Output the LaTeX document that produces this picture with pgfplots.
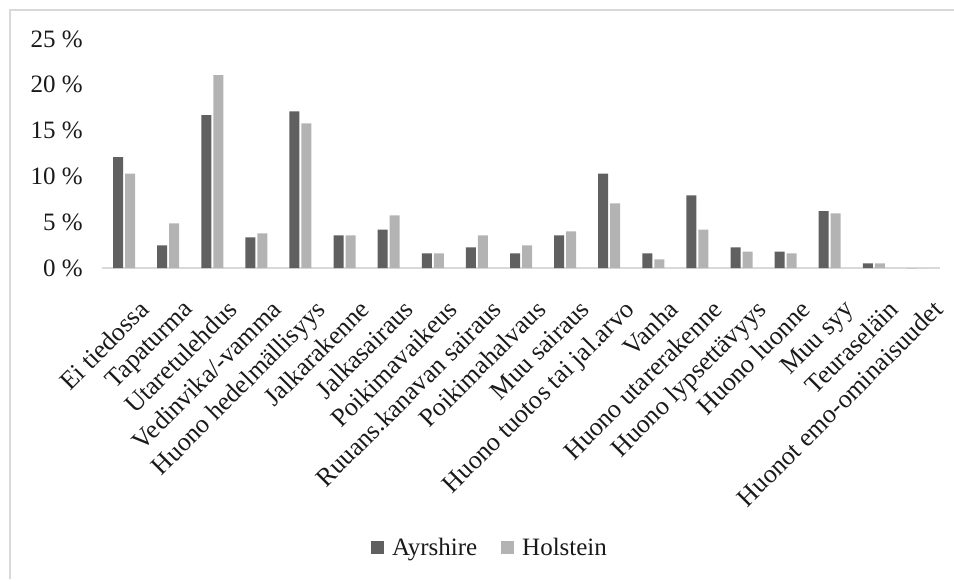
\documentclass[border=0pt]{standalone}
\usepackage{pgfplots}
\pgfplotsset{compat=1.18}
\usepackage{fontspec}
\setmainfont{Liberation Serif}
\definecolor{ayr}{HTML}{606060}
\definecolor{hol}{HTML}{B3B3B3}
\definecolor{frame}{HTML}{D9D9D9}
\definecolor{txt}{HTML}{1A1A1A}
\begin{document}
\begin{tikzpicture}[x=1pt,y=1pt]
\draw[frame, line width=1.5pt] (10,0) -- (10,569) -- (954,569);
\begin{axis}[
  at={(102pt,311pt)}, anchor=south west,
  width=838pt, height=229pt, scale only axis,
  xmin=-0.5, xmax=18.5, ymin=0, ymax=25,
  ybar=2pt, bar width=10pt,
  axis x line*=bottom, axis y line*=left,
  x axis line style={frame, line width=1.2pt, -},
  y axis line style={draw=none},
  xtick=data, xtick style={draw=none}, ytick style={draw=none},
  ytick={0,5,10,15,20,25},
  yticklabel={\pgfmathprintnumber{\tick} \%},
  /pgf/number format/assume math mode=true,
  yticklabel style={font=\fontsize{25}{29}\selectfont, text=txt, anchor=east, inner sep=0pt, xshift=-19pt},
  xticklabels={Ei tiedossa, Tapaturma, Utaretulehdus, Vedinvika/-vamma, Huono hedelmällisyys, Jalkarakenne, Jalkasairaus, Poikimavaikeus, Ruuans.kanavan sairaus, Poikimahalvaus, Muu sairaus, Huono tuotos tai jal.arvo, Vanha, Huono utarerakenne, Huono lypsettävyys, Huono luonne, Muu syy, Teuraseläin, Huonot emo-ominaisuudet},
  xticklabel style={font=\fontsize{26}{30}\selectfont, text=txt, rotate=45, anchor=north east, inner sep=0pt, xshift=-9pt, yshift=-28pt},
  legend style={at={(0.463,-1.2227)}, anchor=center, draw=none, legend columns=2,
    font=\fontsize{25}{29}\selectfont, text=txt,
    /tikz/every even column/.append style={column sep=22pt}},
  legend image code/.code={\fill[#1] (-2pt,-6.5pt) rectangle (11pt,6.5pt); \path (17pt,0pt);},
]
\addplot[fill=ayr, draw=none] coordinates {
(0,12.1) (1,2.47) (2,16.7) (3,3.35) (4,17.1) (5,3.56) (6,4.2) (7,1.6) (8,2.25) (9,1.6)
(10,3.56) (11,10.3) (12,1.6) (13,7.93) (14,2.25) (15,1.8) (16,6.2) (17,0.5) (18,0)};
\addlegendentry{Ayrshire}
\addplot[fill=hol, draw=none] coordinates {
(0,10.3) (1,4.87) (2,21.05) (3,3.78) (4,15.8) (5,3.56) (6,5.75) (7,1.6) (8,3.56) (9,2.47)
(10,4.0) (11,7.05) (12,0.95) (13,4.2) (14,1.8) (15,1.6) (16,5.96) (17,0.5) (18,0)};
\addlegendentry{Holstein}
\end{axis}
\pgfresetboundingbox
\path[use as bounding box] (0,0) rectangle (954,579);
\end{tikzpicture}
\end{document}
